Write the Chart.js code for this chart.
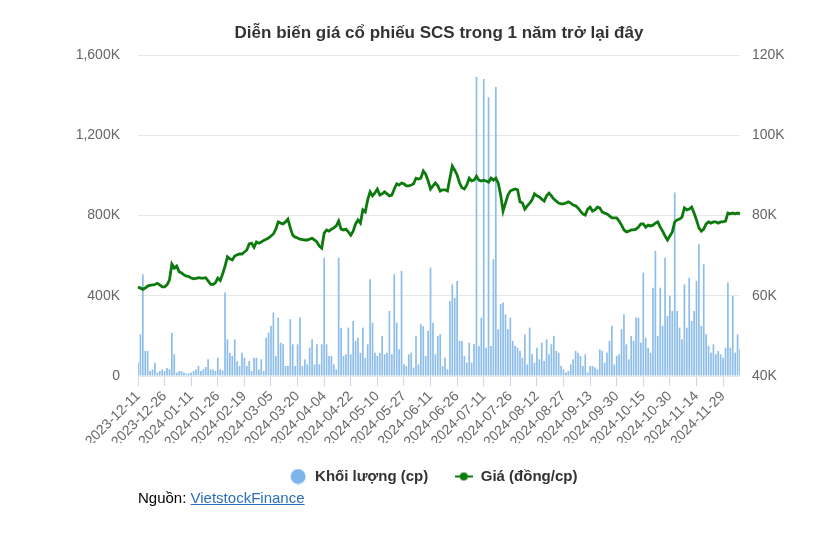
<!DOCTYPE html>
<html><head><meta charset="utf-8">
<script src="https://cdn.jsdelivr.net/npm/chart.js@4.4.0/dist/chart.umd.min.js"></script>
<style>
html,body{margin:0;padding:0;background:#fff;}
#wrap{position:relative;width:837px;height:494px;}
#src{position:absolute;left:138px;top:489px;font:15px 'Liberation Sans',Arial,sans-serif;color:#000;}
#src a{color:#2a6ebb;text-decoration:underline;}
</style></head><body>
<div id="wrap"><canvas id="c"></canvas></div>
<div id="src">Nguồn: <a href="#">VietstockFinance</a></div>
<script>
const tickLabels = ['2023-12-11','2023-12-26','2024-01-11','2024-01-26','2024-02-19','2024-03-05','2024-03-20','2024-04-04','2024-04-22','2024-05-10','2024-05-27','2024-06-11','2024-06-26','2024-07-11','2024-07-26','2024-08-12','2024-08-27','2024-09-13','2024-09-30','2024-10-15','2024-10-30','2024-11-14','2024-11-29'];
const tickEvery = 11;

const volume = [
66000,208000,507000,125000,125000,25000,33000,66000,17000,25000,33000,25000,40000,33000,216000,108000,17000,25000,25000,17000,12000,12000,17000,25000,33000,50000,25000,33000,45000,83000,33000,33000,25000,91000,33000,28000,416000,183000,116000,100000,183000,75000,
50000,116000,91000,50000,75000,25000,91000,91000,33000,83000,25000,191000,216000,249000,316000,100000,291000,166000,158000,50000,50000,283000,158000,50000,158000,291000,50000,83000,58000,141000,183000,58000,158000,58000,158000,590000,158000,100000,100000,58000,33000,590000,
241000,100000,108000,241000,108000,274000,175000,191000,116000,241000,91000,158000,482000,266000,116000,100000,116000,200000,108000,116000,324000,108000,507000,266000,133000,524000,58000,50000,108000,116000,42000,200000,58000,258000,249000,100000,225000,540000,266000,108000,200000,
208000,50000,91000,33000,374000,457000,390000,474000,175000,175000,100000,66000,166000,66000,160000,1490000,150000,291000,1480000,141000,1390000,150000,582000,1440000,233000,358000,366000,308000,233000,291000,175000,150000,141000,125000,91000,208000,58000,241000,108000,66000,141000,83000,
166000,75000,183000,108000,158000,200000,125000,116000,50000,33000,17000,25000,58000,83000,125000,116000,100000,50000,108000,17000,50000,50000,42000,33000,133000,125000,66000,116000,175000,250000,58000,100000,108000,233000,308000,158000,83000,200000,175000,291000,291000,
166000,515000,191000,141000,116000,440000,624000,200000,440000,250000,590000,300000,399000,324000,915000,324000,241000,183000,457000,241000,490000,274000,324000,474000,657000,250000,557000,208000,150000,116000,158000,108000,125000,108000,91000,141000,466000,141000,399000,116000,208000,133000
];

const price = [
62200,61900,61600,61900,62400,62600,62700,62800,63100,62700,
62200,62200,62700,63900,67900,66900,67400,66000,65700,65200,
64900,64800,64400,64200,64300,64500,64400,64400,64500,63700,
62900,62800,63200,64400,63800,65400,67400,69700,69200,68900,
69900,70200,70400,70400,70900,71400,72900,73100,72100,73400,
73100,73400,73800,74100,74400,74900,75400,76600,78400,78100,
77900,78400,79100,76900,75100,74600,74400,74100,74000,73900,
73900,74100,74300,73900,73400,72400,71900,75600,76400,76100,
76600,76900,77400,78600,76600,76400,76600,75900,75100,76100,
77900,78900,78100,81400,80900,83900,85900,84900,85600,86600,
85100,85400,85900,85400,84900,85100,86600,87900,87600,88100,
87900,87400,87400,87600,87900,89300,89100,89300,91100,90300,
88600,86600,87400,88100,87400,86100,86400,86400,86100,89300,
92300,91300,90100,88100,86900,86600,87600,89300,88600,88800,
89800,88800,88600,88800,88600,88300,89300,88800,89300,88100,
85100,81100,83100,85100,86100,86400,86600,86400,83400,83100,
81600,82400,83100,83900,85400,84900,84600,84100,83600,84900,
85600,84900,84100,83600,83100,82900,82900,83100,83400,83100,
82600,82400,81900,81100,80400,80100,81600,82100,81100,81400,
82100,81900,80900,80600,80400,79900,79400,79400,79400,78600,
77600,76400,75900,76100,76400,76400,76600,77100,77900,77900,
77100,77600,77400,77600,78100,78400,77100,76100,74900,73900,
74900,75900,78400,78900,79100,79600,81900,81400,81600,82100,
80600,78900,76900,76100,76600,77900,78400,78100,78400,78400,
78100,78400,78400,78600,80600,80400,80600,80400,80600,80400
];

const volColor = '#7cb5ec';
const priceColor = '#0d7a0d';
const FONT = "'Liberation Sans', Arial, sans-serif";

const labels = volume.map((_, i) => i % tickEvery === 0 ? (tickLabels[i / tickEvery] || '') : '');

function circleIcon() {
  const c = document.createElement('canvas'); c.width = 16; c.height = 16;
  const g = c.getContext('2d'); g.fillStyle = volColor;
  g.beginPath(); g.arc(8, 8, 7.5, 0, Math.PI * 2); g.fill(); return c;
}
function lineDotIcon() {
  const c = document.createElement('canvas'); c.width = 18; c.height = 10;
  const g = c.getContext('2d'); g.strokeStyle = priceColor; g.fillStyle = priceColor; g.lineWidth = 2;
  g.beginPath(); g.moveTo(0, 5); g.lineTo(18, 5); g.stroke();
  g.beginPath(); g.arc(9, 5, 4, 0, Math.PI * 2); g.fill(); return c;
}
const icons = [circleIcon(), lineDotIcon()];

const legendShift = {
  id: 'legendShift',
  afterLayout(chart) {
    if (chart.legend) { chart.legend.left -= 6; chart.legend.right -= 6; }
  }
};

new Chart(document.getElementById('c'), {
  type: 'bar',
  data: {
    labels: labels,
    datasets: [
      { type: 'bar', label: 'Khối lượng (cp)', data: volume, yAxisID: 'y', backgroundColor: '#8dbde9', barPercentage: 0.7, categoryPercentage: 1, order: 1 },
      { type: 'line', label: 'Giá (đồng/cp)', data: price, yAxisID: 'y1', borderColor: priceColor, borderWidth: 2.8, pointRadius: 0, tension: 0, fill: false, order: 0 }
    ]
  },
  plugins: [legendShift],
  options: {
    responsive: true, maintainAspectRatio: false, animation: false, devicePixelRatio: 1,
    layout: { padding: 0 },
    plugins: {
      tooltip: { enabled: false },
      title: { display: true, fullSize: false, text: 'Diễn biến giá cổ phiếu SCS trong 1 năm trở lại đây', color: '#333', font: { family: FONT, size: 17, weight: 'bold' }, padding: { top: 23.5, bottom: 11.1 } },
      legend: {
        position: 'bottom', fullSize: false,
        labels: {
          usePointStyle: true, pointStyleWidth: 19, padding: 26, color: '#333', font: { family: FONT, size: 15, weight: 'bold' },
          generateLabels: () => [
            { text: 'Khối lượng (cp)', pointStyle: icons[0], fillStyle: volColor, strokeStyle: volColor, lineWidth: 0, datasetIndex: 0, fontColor: '#333' },
            { text: 'Giá (đồng/cp)', pointStyle: icons[1], fillStyle: priceColor, strokeStyle: priceColor, lineWidth: 0, datasetIndex: 1, fontColor: '#333' }
          ]
        }
      }
    },
    scales: {
      x: {
        offset: false,
        grid: { offset: false, drawOnChartArea: false, drawTicks: true, tickLength: 10, color: '#ccd6eb' },
        border: { display: false },
        ticks: { autoSkip: false, minRotation: 45, maxRotation: 45, padding: 2, color: '#666', font: { family: FONT, size: 14 },
          callback: function (v, i) { return i % tickEvery === 0 ? labels[i] : null; } },
        afterFit: s => { s.height = 67; }
      },
      y: {
        position: 'left', min: 0, max: 1600000,
        grid: { color: '#e6e6e6', drawTicks: false },
        border: { display: false },
        ticks: { stepSize: 400000, padding: 18, color: '#666', font: { family: FONT, size: 14 },
          callback: v => v === 0 ? '0' : (v / 1000).toLocaleString('en-US') + 'K' },
        afterFit: s => { s.width = 138; }
      },
      y1: {
        position: 'right', min: 40000, max: 120000,
        grid: { drawOnChartArea: false, drawTicks: false },
        border: { display: false },
        ticks: { stepSize: 20000, padding: 12, color: '#666', font: { family: FONT, size: 14 },
          callback: v => (v / 1000) + 'K' },
        afterFit: s => { s.width = 97; }
      }
    }
  }
});
</script>
</body></html>
